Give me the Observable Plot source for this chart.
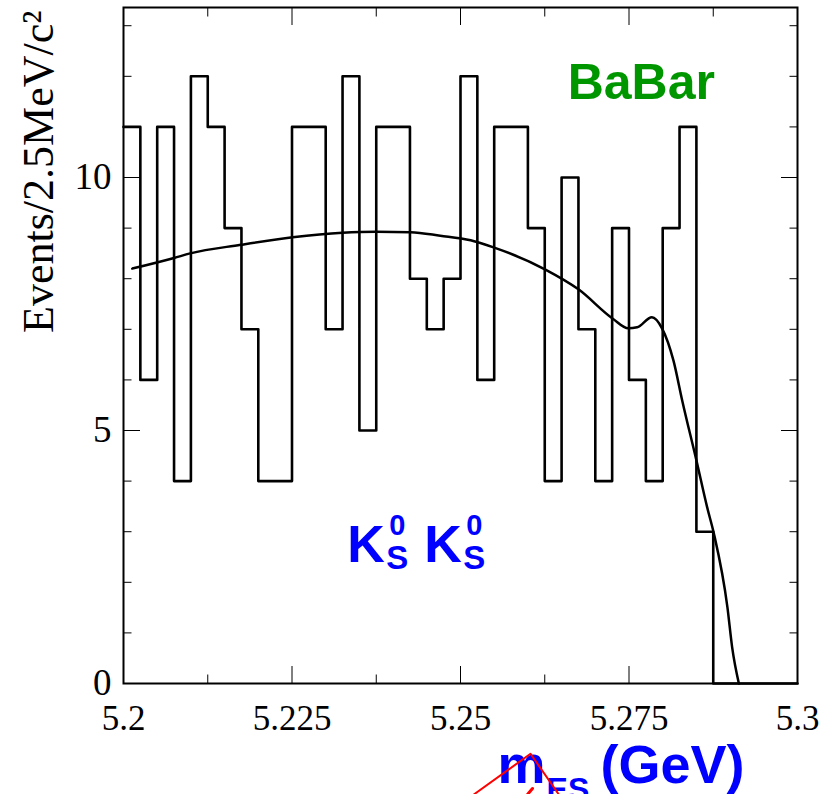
<!DOCTYPE html>
<html><head><meta charset="utf-8">
<script src="https://cdn.jsdelivr.net/npm/d3@7"></script>
<script src="https://cdn.jsdelivr.net/npm/@observablehq/plot@0.6"></script>
<style>html,body{margin:0;padding:0;background:#fff;overflow:hidden}</style>
</head><body><div id="chart"></div>
<script>
// Histogram: 40 bins of 2.5 MeV from 5.2 to 5.3 GeV
const binLow = 5.2;
const binWidth = 0.0025;
const counts = [11,6,11,4,12,11,9,7,4,4, 11,11,7,12,5,11,11,8,7,8, 12,6,11,11,9,4,10,7,4,9, 6,4,9,11,3,0,0,0,0,0];

// Fit curve
const fitX = [5.2013,5.2075,5.2099,5.2174,5.2251,5.2325,5.2375,5.2426,5.2470,5.2515,5.2549,5.2626,5.2675,5.2726,5.2749,5.2762,5.2784,5.2799,5.2816,5.2829,5.2850,5.2866,5.2876,5.2896,5.2903,5.2913];
const fitY = [8.20,8.41,8.50,8.67,8.82,8.91,8.93,8.92,8.85,8.76,8.62,8.18,7.79,7.21,7.02,7.04,7.24,7.02,6.38,5.59,4.41,3.48,2.96,1.51,0.72,0.0];

// Axis ticks and labels
const xMajor = [5.2,5.225,5.25,5.275,5.3];
const xLabels = ["5.2","5.225","5.25","5.275","5.3"];
const xMinor = [5.2125,5.2375,5.2625,5.2875];
const yMajor = [0,5,10];
const yLabels = ["0","5","10"];
const yMinor = [1,2,3,4,6,7,8,9,11,12,13];

// Texts
const yTitle = "Events/2.5MeV/c²";
const expText = "BaBar";
const kText = ["K","0","S"];
const xTitle = ["m","ES","(GeV)"];

// Red stray strokes below the frame
const redLine = [{x:5.25197,y:-2.194},{x:5.26039,y:-1.389},{x:5.26459,y:-2.194}];
const redTick = [{x:5.25994,y:-2.194},{x:5.26068,y:-2.075}];

const hist = counts.map((c,i)=>({x: binLow + i*binWidth, y: c}));
hist.push({x: binLow + counts.length*binWidth, y: counts[counts.length-1]});
const fit = fitX.map((x,i)=>({x, y: fitY[i]}));

const serif = "'Liberation Serif','Times New Roman',serif";
const sans = "'Liberation Sans',Arial,Helvetica,sans-serif";
const blue = "#0000ff";

const tickOpts = {label: null, fill: "none", stroke: "black", strokeWidth: 1};

const chart = Plot.plot({
  width: 820, height: 794,
  marginLeft: 123, marginRight: 23, marginTop: 7, marginBottom: 111,
  x: {domain: [5.2, 5.3], label: null},
  y: {domain: [0, 13.36], label: null},
  style: {background: "white", overflow: "visible"},
  marks: [
    // inward ticks on all four sides
    Plot.axisX(xMajor, {anchor: "bottom", tickSize: -17, ...tickOpts}),
    Plot.axisX(xMinor, {anchor: "bottom", tickSize: -8.5, ...tickOpts}),
    Plot.axisX(xMajor, {anchor: "top", tickSize: -17, ...tickOpts}),
    Plot.axisX(xMinor, {anchor: "top", tickSize: -8.5, ...tickOpts}),
    Plot.axisY(yMajor, {anchor: "left", tickSize: -17, ...tickOpts}),
    Plot.axisY(yMinor, {anchor: "left", tickSize: -8.5, ...tickOpts}),
    Plot.axisY(yMajor, {anchor: "right", tickSize: -17, ...tickOpts}),
    Plot.axisY(yMinor, {anchor: "right", tickSize: -8.5, ...tickOpts}),
    // tick labels
    Plot.axisX(xMajor, {anchor: "bottom", tickSize: 0, tickPadding: 22, label: null,
      tickFormat: d => xLabels[xMajor.indexOf(d)], fontSize: 35, fontFamily: serif, fill: "black"}),
    Plot.axisY(yMajor, {anchor: "left", tickSize: 0, tickPadding: 12, label: null,
      tickFormat: d => yLabels[yMajor.indexOf(d)], fontSize: 37, fontFamily: serif, fill: "black"}),
    // y title
    Plot.text([yTitle], {x: 5.2, y: 13.30, text: d => d, rotate: -90, dx: -71, textAnchor: "end",
      lineAnchor: "bottom", fontSize: 44, fontFamily: serif, fill: "black"}),
    // histogram outline
    Plot.line(hist, {x: "x", y: "y", curve: "step-after", stroke: "black", strokeWidth: 2.6}),
    // fit curve
    Plot.line(fit, {x: "x", y: "y", curve: "monotone-x", stroke: "black", strokeWidth: 2.5}),
    Plot.frame({stroke: "black", strokeWidth: 2}),
    // BaBar label
    Plot.text([expText], {x: 5.2659, y: 11.56, text: d => d, textAnchor: "start", lineAnchor: "bottom",
      fontSize: 50, fontWeight: "bold", fontFamily: sans, fill: "rgb(0,150,0)"}),
    // K0S K0S label
    Plot.text([kText[0]], {x: 5.2332, y: 2.40, text: d => d, textAnchor: "start", lineAnchor: "bottom",
      fontSize: 52, fontWeight: "bold", fontFamily: sans, fill: blue}),
    Plot.text([kText[1]], {x: 5.2332, y: 2.40, dx: 42, dy: -27, text: d => d, textAnchor: "start", lineAnchor: "bottom",
      fontSize: 29, fontWeight: "bold", fontFamily: sans, fill: blue}),
    Plot.text([kText[2]], {x: 5.2332, y: 2.40, dx: 39, dy: 7, text: d => d, textAnchor: "start", lineAnchor: "bottom",
      fontSize: 33, fontWeight: "bold", fontFamily: sans, fill: blue}),
    Plot.text([kText[0]], {x: 5.2332, y: 2.40, dx: 77, text: d => d, textAnchor: "start", lineAnchor: "bottom",
      fontSize: 52, fontWeight: "bold", fontFamily: sans, fill: blue}),
    Plot.text([kText[1]], {x: 5.2332, y: 2.40, dx: 119, dy: -27, text: d => d, textAnchor: "start", lineAnchor: "bottom",
      fontSize: 29, fontWeight: "bold", fontFamily: sans, fill: blue}),
    Plot.text([kText[2]], {x: 5.2332, y: 2.40, dx: 116, dy: 7, text: d => d, textAnchor: "start", lineAnchor: "bottom",
      fontSize: 33, fontWeight: "bold", fontFamily: sans, fill: blue}),
    // x title m_ES (GeV)
    Plot.text([xTitle[0]], {x: 5.2555, y: -1.976, text: d => d, textAnchor: "start", lineAnchor: "bottom",
      fontSize: 54, fontWeight: "bold", fontFamily: sans, fill: blue}),
    Plot.text([xTitle[1]], {x: 5.2555, y: -1.976, dx: 49, dy: 17, text: d => d, textAnchor: "start", lineAnchor: "bottom",
      fontSize: 32, fontWeight: "bold", fontFamily: sans, fill: blue}),
    Plot.text([xTitle[2]], {x: 5.2555, y: -1.976, dx: 103, text: d => d, textAnchor: "start", lineAnchor: "bottom",
      fontSize: 54, fontWeight: "bold", fontFamily: sans, fill: blue}),
    // red strokes
    Plot.line(redLine, {x: "x", y: "y", stroke: "red", strokeWidth: 2}),
    Plot.line(redTick, {x: "x", y: "y", stroke: "red", strokeWidth: 3})
  ]
});
document.getElementById("chart").appendChild(chart);
</script>
</body></html>
